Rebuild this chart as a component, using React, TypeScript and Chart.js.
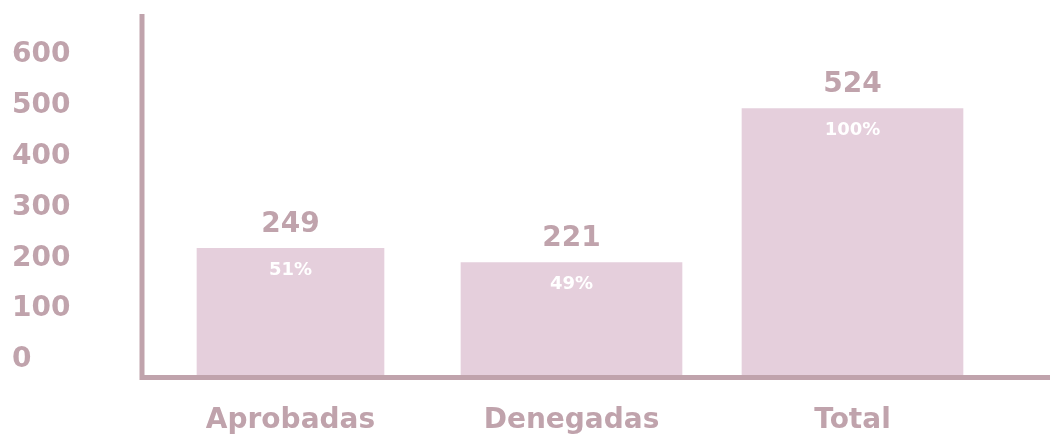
import { useEffect, useRef } from 'react';
import { Chart, registerables } from 'chart.js';

Chart.register(...registerables);

const categories = ['Aprobadas', 'Denegadas', 'Total'];
const values = [249, 221, 524];
const percentLabels = ['51%', '49%', '100%'];
const yMax = 700;
const yStep = 100;
const yLabelLimit = 600;

const AXIS = '#c0a3ac';
const TEXT = '#c0a3ac';
const BAR = '#e5cfdc';
const FONT = "'DejaVu Sans', sans-serif";

export default function App() {
  const ref = useRef<HTMLCanvasElement>(null);

  useEffect(() => {
    if (!ref.current) return;

    const axisPlugin = {
      id: 'axisLines',
      afterDraw(chart: any) {
        const { ctx, chartArea } = chart;
        const y0 = chart.scales.y.getPixelForValue(0);
        const xLine = chartArea.left - 8;
        ctx.save();
        ctx.strokeStyle = AXIS;
        ctx.lineWidth = 5;
        ctx.lineCap = 'butt';
        ctx.beginPath();
        ctx.moveTo(xLine, chartArea.top - 5);
        ctx.lineTo(xLine, y0 + 5);
        ctx.moveTo(xLine - 2.5, y0 + 2.5);
        ctx.lineTo(chart.width, y0 + 2.5);
        ctx.stroke();
        ctx.restore();
      },
    };

    const labelPlugin = {
      id: 'barLabels',
      afterDatasetsDraw(chart: any) {
        const ctx = chart.ctx;
        ctx.save();
        ctx.textAlign = 'center';
        ctx.textBaseline = 'middle';
        chart.data.datasets.forEach((ds: any, di: number) => {
          const meta = chart.getDatasetMeta(di);
          meta.data.forEach((bar: any, i: number) => {
            if (ds.data[i] == null) return;
            const { x, y } = bar.getProps(['x', 'y'], true);
            ctx.fillStyle = TEXT;
            ctx.font = `bold 28px ${FONT}`;
            ctx.fillText(String(values[i]), x, y - 24);
            ctx.fillStyle = '#ffffff';
            ctx.font = `bold 18px ${FONT}`;
            ctx.fillText(percentLabels[i], x, y + 22);
          });
        });
        ctx.restore();
      },
    };

    const chart = new Chart(ref.current, {
      type: 'bar',
      data: {
        labels: categories,
        datasets: [
          {
            data: values.map((v, i) => (i === 0 ? v : null)),
            backgroundColor: BAR,
            barThickness: 187,
            grouped: false,
          } as any,
          {
            data: values.map((v, i) => (i === 0 ? null : v)),
            backgroundColor: BAR,
            barThickness: 221,
            grouped: false,
          } as any,
        ],
      },
      options: {
        animation: false,
        responsive: true,
        maintainAspectRatio: false,
        layout: { padding: { left: 12, top: 19, right: 57, bottom: 0 } },
        plugins: {
          legend: { display: false },
          tooltip: { enabled: false },
        },
        scales: {
          x: {
            grid: { display: false },
            border: { display: false },
            ticks: {
              color: TEXT,
              font: { family: FONT, size: 28, weight: 'bold' },
              padding: 21,
              maxRotation: 0,
              autoSkip: false,
            },
            afterFit: (s: any) => {
              s.height = 59;
            },
          } as any,
          y: {
            min: 0,
            max: yMax,
            grid: { display: false },
            border: { display: false },
            ticks: {
              stepSize: yStep,
              color: TEXT,
              font: { family: FONT, size: 28, weight: 'bold' },
              crossAlign: 'far',
              labelOffset: -15,
              padding: 0,
              callback: (v: any) => (Number(v) <= yLabelLimit ? String(v) : ''),
            },
            afterFit: (s: any) => {
              s.width = 138;
            },
          } as any,
        },
      },
      plugins: [axisPlugin, labelPlugin],
    });

    return () => chart.destroy();
  }, []);

  return (
    <div style={{ position: 'fixed', left: 0, top: 0, width: 1050, height: 434 }}>
      <canvas ref={ref} />
    </div>
  );
}
